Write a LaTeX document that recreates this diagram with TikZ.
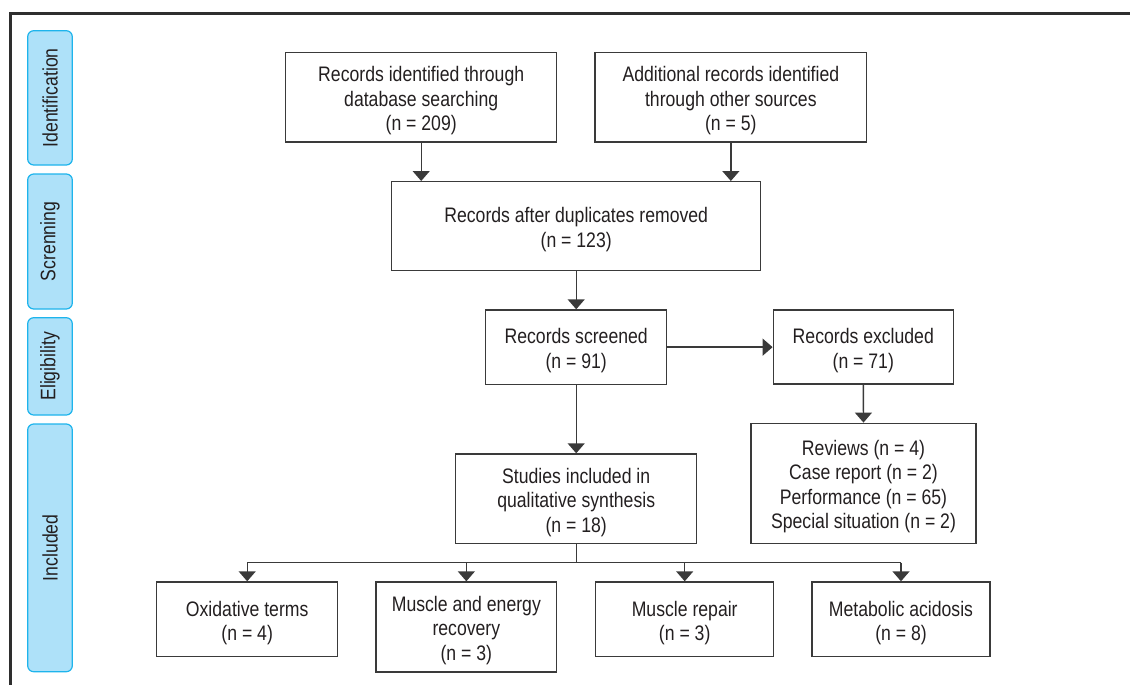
\documentclass[tikz,border=0pt]{standalone}
\usepackage{fontspec}
\setmainfont{Liberation Sans}[FakeStretch=0.84]
\usetikzlibrary{arrows.meta}
\definecolor{ink}{HTML}{231F20}
\definecolor{boxline}{HTML}{3A3A3A}
\definecolor{frameline}{HTML}{2E2E2E}
\definecolor{tabfill}{HTML}{AEE1F9}
\definecolor{tabline}{HTML}{1EB4EC}
\begin{document}
\begin{tikzpicture}[x=1pt,y=-1pt,
  boxtext/.style={align=center, text=ink, font=\fontsize{21}{24.5}\selectfont,
    inner sep=0pt, yshift=-3.5pt},
  box/.style={draw=boxline, line width=1.4pt, inner sep=0pt,
    label={[boxtext]center:#1}},
  tab/.style={draw=tabline, fill=tabfill, line width=1.2pt, rounded corners=6pt,
    rotate=90, text=ink, font=\fontsize{21}{24}\selectfont, inner sep=0pt},
  arr/.style={draw=boxline, line width=1.4pt, -{Triangle[width=17pt,length=10pt]}},
  conn/.style={draw=boxline, line width=1.4pt}]
\useasboundingbox (0,0) rectangle (1130,685);
% frame
\coordinate (fb) at (10.5,685);
\coordinate (fc) at (10.5,13.5);
\coordinate (fr) at (1130,13.5);
\draw[line width=3pt, draw=frameline] (fb) -- (fc) -- (fr);
% stage tabs
\node[tab, minimum width=134.3pt, minimum height=44.6pt] (t1) at (50,97.85) {Identification};
\node[tab, minimum width=135pt, minimum height=44.6pt] (t2) at (50,241.5) {Screnning};
\node[tab, minimum width=97.3pt, minimum height=44.6pt] (t3) at (50,366.35) {Eligibility};
\node[tab, minimum width=247.7pt, minimum height=44.6pt] (t4) at (50,547.85) {Included};
% boxes
\node[box={Records identified through\\database searching\\(n = 209)},
  minimum width=271pt, minimum height=89.3pt] (A) at (421.2,97.35) {};
\node[box={Additional records identified\\through other sources\\(n = 5)},
  minimum width=271.7pt, minimum height=89.3pt] (B) at (730.85,97.35) {};
\node[box={Records after duplicates removed\\(n = 123)},
  minimum width=369pt, minimum height=89pt] (C) at (576.2,226.2) {};
\node[box={Records screened\\(n = 91)},
  minimum width=181pt, minimum height=74.3pt] (D) at (576.2,347.15) {};
\node[box={Records excluded\\(n = 71)},
  minimum width=180pt, minimum height=74pt] (E) at (863.3,347.15) {};
\node[box={Reviews (n = 4)\\Case report (n = 2)\\Performance (n = 65)\\Special situation (n = 2)},
  minimum width=225pt, minimum height=120pt] (F) at (863.5,483.3) {};
\node[box={Studies included in\\qualitative synthesis\\(n = 18)},
  minimum width=241pt, minimum height=89.3pt] (G) at (576.2,498.65) {};
\node[box={Oxidative terms\\(n = 4)},
  minimum width=181pt, minimum height=74.7pt] (H1) at (247.2,619.35) {};
\node[box={Muscle and energy\\recovery\\(n = 3)},
  minimum width=180.7pt, minimum height=90pt] (H2) at (466.35,627) {};
\node[box={Muscle repair\\(n = 3)},
  minimum width=178pt, minimum height=74.7pt] (H3) at (684.7,619.35) {};
\node[box={Metabolic acidosis\\(n = 8)},
  minimum width=178pt, minimum height=74.7pt] (H4) at (901,619.35) {};
% connectors
\draw[arr] (A.south) -- (A.south |- C.north);
\draw[arr] (B.south) -- (B.south |- C.north);
\draw[arr] (C.south) -- (D.north);
\draw[arr] (D.east) -- (E.west);
\draw[arr] (E.south) -- (F.north);
\draw[arr] (D.south) -- (G.north);
\coordinate (br) at (576.2,562.7);
\draw[conn] (G.south) -- (br);
\draw[conn] (H1.north |- br) -- (H4.north |- br);
\draw[arr] (H1.north |- br) -- (H1.north);
\draw[arr] (H2.north |- br) -- (H2.north);
\draw[arr] (H3.north |- br) -- (H3.north);
\draw[arr] (H4.north |- br) -- (H4.north);
\end{tikzpicture}
\end{document}
